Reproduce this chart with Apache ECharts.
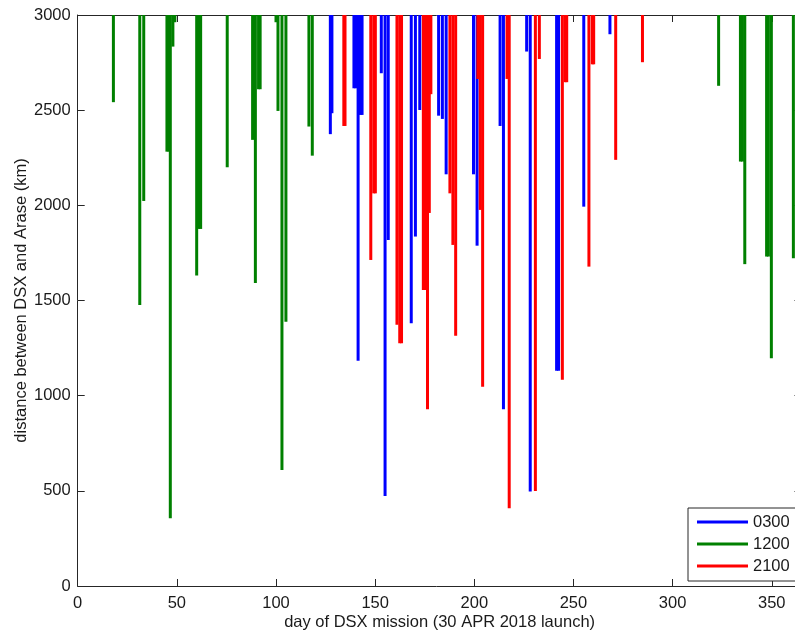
<!DOCTYPE html>
<html>
<head>
<meta charset="utf-8">
<script src="https://cdn.jsdelivr.net/npm/echarts@6/dist/echarts.min.js"></script>
<style>
html,body{margin:0;padding:0;background:#fff;}
#c{width:795px;height:630px;}
</style>
</head>
<body>
<div id="c"></div>
<script>
// ---- data (day of mission, minimum distance in km reached below the 3000 km ceiling) ----
const xTicks = [0, 50, 100, 150, 200, 250, 300, 350];
const yTicks = [0, 500, 1000, 1500, 2000, 2500, 3000];
const seriesNames = ['0300', '1200', '2100'];

const days0300 = [127.4, 128.2, 139.3, 140.2, 141.4, 142.6, 143.4, 153.1, 155.0, 156.6,
  168.2, 170.3, 172.5, 182.0, 183.9, 185.8, 199.6, 201.4, 213.0, 214.7,
  226.4, 228.2, 241.5, 242.5, 255.2, 268.4];
const dist0300 = [2374, 2484, 2615, 2615, 1184, 2475, 2475, 2694, 473, 1818,
  1380, 1836, 2501, 2471, 2454, 2163, 2163, 1788, 2417, 928,
  2808, 496, 1131, 1131, 1993, 2899];

const days1200 = [18.0, 31.3, 33.3, 45.0, 46.0, 46.7, 48.0, 49.0, 60.0, 61.0, 62.0,
  75.4, 88.2, 89.6, 91.2, 92.0, 100.0, 101.0, 103.0, 105.0, 116.6, 118.3,
  323.2, 334.2, 335.2, 336.4, 347.4, 348.3, 349.8, 360.9];
const dist1200 = [2542, 1477, 2023, 2282, 2282, 356, 2834, 2962, 1631, 1876, 1876,
  2200, 2344, 1592, 2610, 2610, 2962, 2496, 610, 1389, 2414, 2261,
  2628, 2230, 2230, 1691, 1731, 1731, 1196, 1722];

const days2100 = [134.2, 134.8, 147.8, 149.3, 150.1, 161.0, 162.4, 163.3, 174.3, 175.0, 177.3, 176.4, 178.1,
  187.7, 189.2, 190.6, 201.8, 203.0, 204.2, 216.5, 217.6, 230.8, 232.8,
  244.4, 245.8, 246.6, 257.8, 259.5, 260.2, 271.3, 284.8];
const dist2100 = [2417, 2417, 1713, 2063, 2063, 1372, 1275, 1275, 1555, 1555, 1960, 928, 2584,
  2063, 1792, 1315, 2664, 1976, 1047, 2664, 408, 499, 2769,
  1083, 2647, 2647, 1678, 2741, 2741, 2239, 2752];

const CEIL = 3000;
const colors = {'0300': '#0000ff', '1200': '#008000', '2100': '#ff0000'};
const FONT = '"Liberation Sans", Arial, Helvetica, sans-serif';
const AXC = '#262626';

function mk(name, days, dist) {
  const color = colors[name];
  return {
    type: 'custom',
    name: name,
    data: days.map((d, i) => [d, dist[i]]),
    encode: {x: 0, y: 1},
    clip: true,
    itemStyle: {color: color},
    renderItem: function (params, api) {
      const x = api.value(0), v = api.value(1);
      const a = api.coord([x, CEIL]);
      const b = api.coord([x, v]);
      return {
        type: 'line',
        shape: {x1: a[0], y1: a[1], x2: b[0], y2: b[1]},
        style: {stroke: color, lineWidth: 3, lineCap: 'butt'}
      };
    }
  };
}

const chart = echarts.init(document.getElementById('c'), null, {renderer: 'canvas'});
const labelStyle = {fontFamily: FONT, fontSize: 16.5, color: '#1a1a1a'};
chart.setOption({
  animation: false,
  backgroundColor: '#ffffff',
  grid: {left: 77.7, top: 15, bottom: 44, right: -6.5, containLabel: false, outerBoundsMode: 'none'},
  legend: {
    orient: 'vertical',
    left: 688, top: 508,
    padding: [5, 14, 6, 9],
    itemGap: 4,
    itemWidth: 51, itemHeight: 3,
    borderColor: AXC, borderWidth: 1, backgroundColor: '#ffffff',
    textStyle: {fontFamily: FONT, fontSize: 16.5, color: '#1a1a1a', lineHeight: 18},
    data: seriesNames.map(n => ({name: n, icon: 'rect'}))
  },
  xAxis: [{
    type: 'value', min: xTicks[0], max: 365, interval: 50, position: 'bottom',
    name: 'day of DSX mission (30 APR 2018 launch)',
    nameLocation: 'middle', nameGap: 28, nameMoveOverlap: false,
    nameTextStyle: {fontFamily: FONT, fontSize: 16.5, color: '#1a1a1a'},
    axisLine: {show: true, onZero: false, lineStyle: {color: AXC, width: 1}},
    axisTick: {show: true, inside: true, length: 7, lineStyle: {color: AXC}},
    axisLabel: Object.assign({margin: 9, showMaxLabel: false,
      formatter: v => xTicks.indexOf(v) >= 0 ? String(v) : ''}, labelStyle),
    splitLine: {show: false}
  }, {
    type: 'value', min: xTicks[0], max: 365, interval: 50, position: 'top',
    axisLine: {show: true, onZero: false, lineStyle: {color: AXC, width: 1}},
    axisTick: {show: true, inside: true, length: 7, lineStyle: {color: AXC}},
    axisLabel: {show: false},
    splitLine: {show: false}
  }],
  yAxis: [{
    type: 'value', min: yTicks[0], max: yTicks[yTicks.length - 1], interval: 500, position: 'left',
    name: 'distance between DSX and Arase (km)',
    nameLocation: 'middle', nameGap: 48, nameMoveOverlap: false,
    nameTextStyle: {fontFamily: FONT, fontSize: 16.5, color: '#1a1a1a'},
    axisLine: {show: true, onZero: false, lineStyle: {color: AXC, width: 1}},
    axisTick: {show: true, inside: true, length: 7, lineStyle: {color: AXC}},
    axisLabel: Object.assign({margin: 7, formatter: v => String(v)}, labelStyle),
    splitLine: {show: false}
  }, {
    type: 'value', min: yTicks[0], max: yTicks[yTicks.length - 1], interval: 500, position: 'right',
    axisLine: {show: true, onZero: false, lineStyle: {color: AXC, width: 1}},
    axisTick: {show: true, inside: true, length: 7, lineStyle: {color: AXC}},
    axisLabel: {show: false},
    splitLine: {show: false}
  }],
  series: [
    mk('0300', days0300, dist0300),
    mk('1200', days1200, dist1200),
    mk('2100', days2100, dist2100)
  ]
});
</script>
</body>
</html>
